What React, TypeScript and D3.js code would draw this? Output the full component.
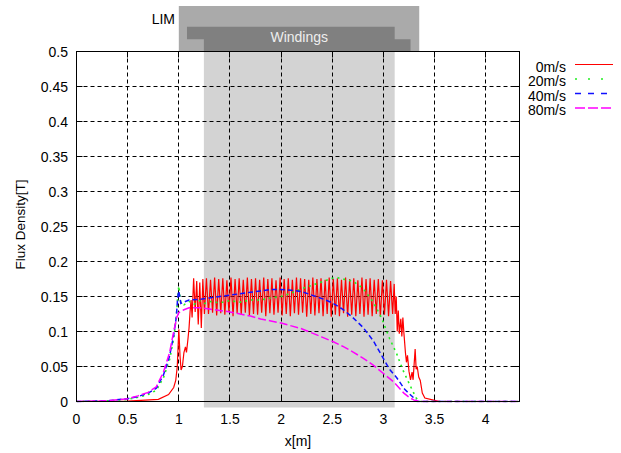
import React, { useEffect, useRef } from "react";
import * as d3 from "d3";

const xTicks = [0, 0.5, 1, 1.5, 2, 2.5, 3, 3.5, 4];
const yTicks = [0, 0.05, 0.1, 0.15, 0.2, 0.25, 0.3, 0.35, 0.4, 0.45, 0.5];
const yTickLabels = ["0", "0.05", "0.1", "0.15", "0.2", "0.25", "0.3", "0.35", "0.4", "0.45", "0.5"];
const xTickLabels = ["0", "0.5", "1", "1.5", "2", "2.5", "3", "3.5", "4"];

const legendLabels = ["0m/s", "20m/s", "40m/s", "80m/s"];
const seriesColors = ["#ff0000", "#22ee22", "#1010ff", "#ff00ff"];
const seriesWidth = [1.2, 1.6, 1.5, 1.5];
const plotDash = ["none", "2,4", "5,3", "8,3"];
const legendDash = ["none", "2,11", "6,7", "10,3"];

// machine outline (in metres along x)
const limRange = [1.0, 3.35];
const windingRange = [1.245, 3.11];
const windingTabs = [1.08, 3.265];

// 0 m/s
const red0: [number, number][] = [
  [0, 0], [0.5, 0.0005], [0.8, 0.003], [0.9, 0.01], [0.95, 0.02], [0.97, 0.03], [0.985, 0.05],
  [1.0, 0.103], [1.012, 0.065], [1.022, 0.045], [1.035, 0.05], [1.05, 0.07], [1.065, 0.078],
  [1.075, 0.07], [1.09, 0.09], [1.1, 0.105], [1.11, 0.128], [1.12, 0.145], [1.13, 0.12],
  [1.145, 0.176], [1.16, 0.128], [1.175, 0.172], [1.19, 0.11], [1.205, 0.17], [1.22, 0.105],
  [1.235, 0.175], [1.25, 0.125],
  [1.27, 0.176], [1.29, 0.125], [1.31, 0.174], [1.33, 0.127], [1.35, 0.177], [1.37, 0.123], [1.39, 0.175], [1.41, 0.126], [1.43, 0.176], [1.45, 0.124],
  [1.47, 0.173], [1.49, 0.128], [1.51, 0.177], [1.53, 0.122], [1.55, 0.175], [1.57, 0.126], [1.59, 0.176], [1.61, 0.124], [1.63, 0.174], [1.65, 0.127],
  [1.67, 0.177], [1.69, 0.123], [1.71, 0.175], [1.73, 0.125], [1.75, 0.176], [1.77, 0.124], [1.79, 0.174], [1.81, 0.127], [1.83, 0.177], [1.85, 0.122],
  [1.87, 0.175], [1.89, 0.126], [1.91, 0.176], [1.93, 0.124], [1.95, 0.173], [1.97, 0.127], [1.99, 0.177], [2.01, 0.123], [2.03, 0.175], [2.05, 0.125],
  [2.07, 0.176], [2.09, 0.122], [2.11, 0.174], [2.13, 0.126], [2.15, 0.177], [2.17, 0.124], [2.19, 0.176], [2.21, 0.127], [2.23, 0.175], [2.25, 0.121],
  [2.27, 0.174], [2.29, 0.125], [2.31, 0.177], [2.33, 0.123], [2.35, 0.175], [2.37, 0.126], [2.39, 0.176], [2.41, 0.122], [2.43, 0.174], [2.45, 0.125],
  [2.47, 0.177], [2.49, 0.121], [2.51, 0.175], [2.53, 0.124], [2.55, 0.176], [2.57, 0.122], [2.59, 0.174], [2.61, 0.126], [2.63, 0.177], [2.65, 0.121],
  [2.67, 0.175], [2.69, 0.124], [2.71, 0.176], [2.73, 0.122], [2.75, 0.173], [2.77, 0.125], [2.79, 0.177], [2.81, 0.121], [2.83, 0.175], [2.85, 0.124],
  [2.87, 0.176], [2.89, 0.122], [2.91, 0.174], [2.93, 0.125], [2.95, 0.175], [2.97, 0.121], [2.99, 0.173], [3.01, 0.124], [3.03, 0.174], [3.05, 0.122],
  [3.07, 0.172], [3.09, 0.125],
  [3.105, 0.168], [3.115, 0.125], [3.125, 0.15], [3.135, 0.1], [3.145, 0.13], [3.155, 0.097],
  [3.17, 0.118], [3.18, 0.093], [3.19, 0.12], [3.2, 0.098], [3.215, 0.07], [3.225, 0.056],
  [3.235, 0.066], [3.25, 0.043], [3.265, 0.031], [3.28, 0.042], [3.29, 0.031], [3.31, 0.075],
  [3.32, 0.046], [3.33, 0.05], [3.345, 0.035], [3.36, 0.03], [3.38, 0.012], [3.405, 0.005],
  [3.49, 0.002], [3.55, 0], [4.33, 0],
];

// 20 m/s
const green20: [number, number][] = [
  [0, 0], [0.3, 0.001], [0.5, 0.003], [0.6, 0.006], [0.7, 0.01], [0.78, 0.016], [0.85, 0.034],
  [0.91, 0.06], [0.95, 0.09], [0.975, 0.12], [0.99, 0.15], [1.0, 0.165], [1.02, 0.14],
  [1.05, 0.138], [1.1, 0.143], [1.15, 0.139], [1.2, 0.144], [1.25, 0.14], [1.3, 0.143],
  [1.4, 0.141], [1.5, 0.144], [1.6, 0.142], [1.7, 0.145], [1.8, 0.145], [1.9, 0.148],
  [2.0, 0.15], [2.1, 0.155], [2.2, 0.161], [2.3, 0.166], [2.4, 0.171], [2.5, 0.176],
  [2.55, 0.177], [2.6, 0.175], [2.7, 0.172], [2.8, 0.162], [2.9, 0.142], [2.98, 0.12],
  [3.06, 0.09], [3.13, 0.068], [3.19, 0.045], [3.27, 0.02], [3.32, 0.005], [3.36, 0],
  [3.5, 0], [4.33, 0],
];

// 40 m/s
const blue40: [number, number][] = [
  [0, 0], [0.3, 0.001], [0.5, 0.004], [0.6, 0.007], [0.7, 0.012], [0.78, 0.019], [0.85, 0.038],
  [0.91, 0.065], [0.95, 0.095], [0.975, 0.12], [0.99, 0.15], [1.0, 0.158], [1.02, 0.14],
  [1.05, 0.142], [1.1, 0.145], [1.2, 0.146], [1.3, 0.148], [1.4, 0.15], [1.5, 0.152],
  [1.6, 0.154], [1.7, 0.156], [1.8, 0.158], [1.9, 0.16], [2.0, 0.16], [2.1, 0.159],
  [2.2, 0.157], [2.3, 0.152], [2.4, 0.147], [2.5, 0.141], [2.6, 0.132], [2.7, 0.12],
  [2.8, 0.106], [2.9, 0.087], [2.97, 0.069], [3.06, 0.046], [3.13, 0.034], [3.21, 0.017],
  [3.29, 0.006], [3.33, 0], [3.5, 0], [4.33, 0],
];

// 80 m/s
const magenta80: [number, number][] = [
  [0, 0], [0.3, 0.001], [0.5, 0.004], [0.6, 0.008], [0.7, 0.013], [0.78, 0.021], [0.85, 0.042],
  [0.91, 0.07], [0.95, 0.1], [0.98, 0.12], [1.0, 0.127], [1.05, 0.131], [1.1, 0.134],
  [1.2, 0.134], [1.3, 0.132], [1.4, 0.13], [1.5, 0.128], [1.6, 0.125], [1.7, 0.122],
  [1.8, 0.118], [1.9, 0.115], [2.0, 0.112], [2.1, 0.108], [2.2, 0.104], [2.3, 0.098],
  [2.4, 0.092], [2.5, 0.086], [2.6, 0.079], [2.7, 0.071], [2.8, 0.062], [2.9, 0.052],
  [3.0, 0.04], [3.1, 0.028], [3.2, 0.012], [3.25, 0.006], [3.3, 0.002], [3.35, 0],
  [3.5, 0], [4.33, 0],
];

const series = [red0, green20, blue40, magenta80];

const App = () => {
  const ref = useRef<SVGSVGElement>(null);

  useEffect(() => {
    const width = 621;
    const height = 453;
    const left = 76.5, right = 519.5, top = 51.5, bottom = 401.5;
    const font = "'Liberation Sans', Arial, Helvetica, sans-serif";

    const svg = d3.select(ref.current)
      .attr("width", width)
      .attr("height", height);

    svg.selectAll("*").remove();

    const x = d3.scaleLinear().domain([0, 4.33]).range([left, right]);
    const y = d3.scaleLinear().domain([0, 0.5]).range([bottom, top]);
    const snap = (v: number) => Math.round(v - 0.5) + 0.5;

    svg.append("rect").attr("width", width).attr("height", height).attr("fill", "#fff");

    // windings zone shading inside the plot
    svg.append("rect")
      .attr("x", x(windingRange[0]))
      .attr("y", top)
      .attr("width", x(windingRange[1]) - x(windingRange[0]))
      .attr("height", bottom - top + 6)
      .attr("fill", "#d3d3d3");

    // LIM block above the plot
    svg.append("rect")
      .attr("x", x(limRange[0]))
      .attr("y", 6)
      .attr("width", x(limRange[1]) - x(limRange[0]))
      .attr("height", top - 6)
      .attr("fill", "#aaaaaa");

    const yT = 26.7, yM = 39.3;
    const pts = [
      [x(windingTabs[0]), yT], [x(windingRange[1]), yT], [x(windingRange[1]), yM],
      [x(windingTabs[1]), yM], [x(windingTabs[1]), top], [x(windingRange[0]), top],
      [x(windingRange[0]), yM], [x(windingTabs[0]), yM],
    ];
    svg.append("polygon")
      .attr("points", pts.map(p => p.join(",")).join(" "))
      .attr("fill", "#808080");

    svg.append("text")
      .attr("x", 175).attr("y", 23.5)
      .attr("text-anchor", "end")
      .attr("font-family", font).attr("font-size", 14)
      .text("LIM");

    svg.append("text")
      .attr("x", (x(windingRange[0]) + x(windingRange[1])) / 2).attr("y", 42)
      .attr("text-anchor", "middle")
      .attr("font-family", font).attr("font-size", 14)
      .attr("fill", "#eeeeee")
      .text("Windings");

    // grid
    const grid = svg.append("g")
      .attr("stroke", "#000")
      .attr("stroke-width", 1)
      .attr("stroke-dasharray", "4,3");
    xTicks.filter(t => t > 0).forEach(t => {
      grid.append("line")
        .attr("x1", snap(x(t))).attr("x2", snap(x(t)))
        .attr("y1", top).attr("y2", bottom);
    });
    yTicks.filter(t => t > 0 && t < 0.5).forEach(t => {
      grid.append("line")
        .attr("x1", left).attr("x2", right)
        .attr("y1", snap(y(t))).attr("y2", snap(y(t)));
    });

    // ticks (inward, mirrored)
    const ticks = svg.append("g").attr("stroke", "#000").attr("stroke-width", 1);
    xTicks.forEach(t => {
      const xp = snap(x(t));
      ticks.append("line").attr("x1", xp).attr("x2", xp).attr("y1", bottom).attr("y2", bottom - 6);
      ticks.append("line").attr("x1", xp).attr("x2", xp).attr("y1", top).attr("y2", top + 6);
    });
    yTicks.forEach(t => {
      const yp = snap(y(t));
      ticks.append("line").attr("x1", left).attr("x2", left + 6).attr("y1", yp).attr("y2", yp);
      ticks.append("line").attr("x1", right).attr("x2", right - 6).attr("y1", yp).attr("y2", yp);
    });

    // series
    svg.append("clipPath").attr("id", "plotclip")
      .append("rect")
      .attr("x", left).attr("y", top - 1)
      .attr("width", right - left).attr("height", bottom - top + 2);

    const line = d3.line<[number, number]>()
      .x(d => x(d[0]))
      .y(d => y(d[1]));

    const plot = svg.append("g").attr("clip-path", "url(#plotclip)");
    series.forEach((s, i) => {
      plot.append("path")
        .datum(s)
        .attr("d", line)
        .attr("fill", "none")
        .attr("stroke", seriesColors[i])
        .attr("stroke-width", seriesWidth[i])
        .attr("stroke-dasharray", plotDash[i]);
    });

    // border
    svg.append("rect")
      .attr("x", left).attr("y", top)
      .attr("width", right - left).attr("height", bottom - top)
      .attr("fill", "none")
      .attr("stroke", "#000")
      .attr("stroke-width", 1);

    // tick labels
    xTicks.forEach((t, i) => {
      svg.append("text")
        .attr("x", x(t)).attr("y", 424)
        .attr("text-anchor", "middle")
        .attr("font-family", font).attr("font-size", 14)
        .text(xTickLabels[i]);
    });
    yTicks.forEach((t, i) => {
      svg.append("text")
        .attr("x", 68).attr("y", y(t) + 5)
        .attr("text-anchor", "end")
        .attr("font-family", font).attr("font-size", 14)
        .text(yTickLabels[i]);
    });

    svg.append("text")
      .attr("x", (left + right) / 2).attr("y", 446)
      .attr("text-anchor", "middle")
      .attr("font-family", font).attr("font-size", 14)
      .text("x[m]");

    svg.append("text")
      .attr("transform", `translate(25,${(top + bottom) / 2 - 2}) rotate(-90)`)
      .attr("text-anchor", "middle")
      .attr("font-family", font).attr("font-size", 13.5)
      .text("Flux Density[T]");

    // legend
    legendLabels.forEach((lab, i) => {
      const ly = 64.5 + i * 14.5;
      svg.append("text")
        .attr("x", 566).attr("y", ly + 7)
        .attr("text-anchor", "end")
        .attr("font-family", font).attr("font-size", 14)
        .text(lab);
      svg.append("line")
        .attr("x1", 575).attr("x2", 613)
        .attr("y1", ly).attr("y2", ly)
        .attr("stroke", seriesColors[i])
        .attr("stroke-width", seriesWidth[i])
        .attr("stroke-dasharray", legendDash[i]);
    });
  }, []);

  return (
    <svg ref={ref} style={{ position: "absolute", left: 0, top: 0, display: "block" }}></svg>
  );
};

export default App;
